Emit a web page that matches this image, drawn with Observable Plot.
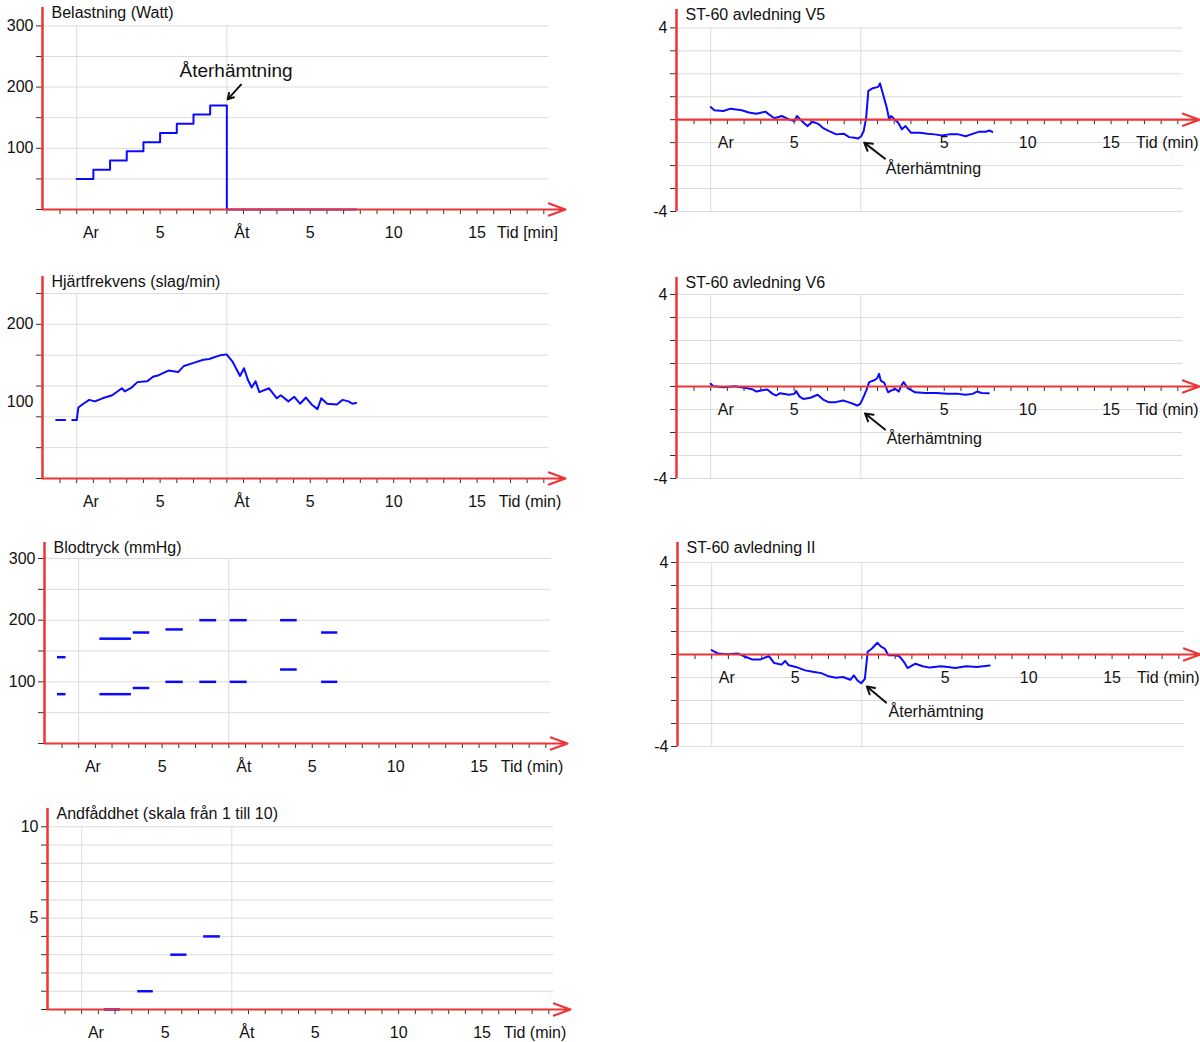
<!DOCTYPE html>
<html><head><meta charset="utf-8">
<script src="https://cdn.jsdelivr.net/npm/d3@7"></script>
<script src="https://cdn.jsdelivr.net/npm/@observablehq/plot@0.6"></script>
<style>
body{margin:0;background:#fff;font-family:"Liberation Sans",Arial,sans-serif;}
#wrap{position:relative;width:1200px;height:1042px;}
#wrap svg{position:absolute;overflow:visible;}
</style></head>
<body><div id="wrap"></div>
<script>
// ---- data (x = minutes from start of exercise "Ar"; "Åt" = 9) ----
const loadSteps = [[0,50],[1,65],[2,80],[3,95],[4,110],[5,125],[6,140],[7,155],[8,170],[9,170],[9,0],[16.75,0]];
const hrRest = [[-1.23,76],[0,76]];
const hrSeries = [[0,76],[0.1,92],[0.4,97],[0.75,102],[1.09,100],[1.55,104],[2.13,108],[2.71,117],[2.88,113],[3.29,118],[3.64,125],[4.22,126],[4.57,132],[4.92,134],[5.5,140],[6.08,138],[6.43,146],[7.01,150],[7.59,154],[7.94,155],[8.63,160],[8.98,161],[9.33,152],[9.79,133],[10.03,143],[10.26,128],[10.49,118],[10.72,126],[10.95,112],[11.53,117],[12.0,104],[12.23,108],[12.69,100],[13.04,106],[13.39,97],[13.74,105],[14.08,96],[14.43,90],[14.66,104],[15.01,97],[15.59,96],[15.94,102],[16.29,100],[16.52,97],[16.75,98]];
const bpStart = [-1.27,1.27,3.27,5.23,7.26,9.08,12.1,14.56];
const bpEnd   = [-0.76,3.16,4.26,6.27,8.27,10.1,13.1,15.53];
const bpSys   = [140,170,180,185,200,200,200,180];
const bpDia   = [80,80,90,100,100,100,120,100];
const dysStart = [1.35,3.36,5.34,7.31];
const dysEnd   = [2.32,4.29,6.31,8.31];
const dysVal   = [0,1,3,4];
const stV5 = [[0,0.55],[0.22,0.41],[0.76,0.38],[1.2,0.48],[1.86,0.41],[2.29,0.31],[2.73,0.26],[3.28,0.35],[3.49,0.23],[3.82,0.06],[4.26,0.16],[4.69,0.01],[5.02,-0.06],[5.17,0.16],[5.46,-0.06],[5.79,-0.28],[6.11,-0.09],[6.44,-0.18],[6.77,-0.38],[7.1,-0.5],[7.53,-0.64],[7.97,-0.61],[8.3,-0.76],[8.62,-0.79],[8.84,-0.82],[9.02,-0.72],[9.17,-0.5],[9.32,0.09],[9.45,1.26],[9.72,1.37],[10.04,1.43],[10.15,1.58],[10.33,1.11],[10.55,0.53],[10.7,0.01],[10.81,0.16],[11.03,0.01],[11.24,-0.13],[11.46,-0.42],[11.68,-0.28],[12.01,-0.57],[12.55,-0.57],[12.99,-0.61],[13.43,-0.64],[13.86,-0.69],[14.3,-0.64],[14.85,-0.64],[15.28,-0.72],[15.61,-0.64],[16.05,-0.53],[16.48,-0.53],[16.7,-0.47],[16.88,-0.53]];
const stV6 = [[0,0.12],[0.15,0.01],[0.8,-0.03],[1.45,0.01],[2.1,-0.06],[2.53,-0.13],[2.74,-0.22],[3.17,-0.15],[3.39,-0.13],[3.71,-0.32],[3.93,-0.39],[4.15,-0.29],[4.69,-0.36],[5.01,-0.32],[5.12,-0.2],[5.33,-0.44],[5.55,-0.54],[5.98,-0.49],[6.41,-0.36],[6.74,-0.57],[7.06,-0.68],[7.49,-0.68],[7.93,-0.61],[8.25,-0.68],[8.57,-0.76],[8.79,-0.83],[8.96,-0.76],[9.11,-0.54],[9.33,-0.17],[9.5,0.19],[9.76,0.26],[9.98,0.36],[10.09,0.55],[10.19,0.26],[10.41,0.16],[10.63,-0.25],[10.84,-0.17],[11.06,-0.1],[11.27,-0.22],[11.43,0.04],[11.56,0.19],[11.81,-0.07],[12.25,-0.25],[12.89,-0.28],[13.54,-0.28],[14.19,-0.31],[14.84,-0.32],[15.27,-0.36],[15.7,-0.32],[15.96,-0.22],[16.24,-0.28],[16.67,-0.29]];
const stII = [[0,0.19],[0.17,0.12],[0.39,0.04],[0.93,0.01],[1.58,0.04],[2.02,-0.1],[2.45,-0.22],[2.89,-0.22],[3.32,-0.1],[3.43,-0.07],[3.75,-0.37],[4.19,-0.44],[4.4,-0.28],[4.62,-0.47],[5.05,-0.54],[5.6,-0.69],[6.14,-0.76],[6.57,-0.81],[7.01,-0.95],[7.44,-1.01],[7.87,-0.98],[8.31,-1.1],[8.52,-0.91],[8.74,-1.13],[8.96,-1.25],[9.18,-1.06],[9.35,0.12],[9.61,0.26],[9.93,0.51],[10.15,0.34],[10.37,0.26],[10.59,-0.03],[10.91,-0.03],[11.24,-0.07],[11.52,-0.32],[11.74,-0.59],[12.21,-0.4],[12.65,-0.51],[13.08,-0.57],[13.73,-0.51],[14.16,-0.54],[14.6,-0.59],[15.25,-0.51],[15.9,-0.54],[16.66,-0.48]];
const xLabelsLeft = [[0.85,"Ar"],[5,"5"],[9.9,"Åt"],[14,"5"],[19,"10"],[24,"15"]];
const xLabelsRight = [[0.9,"Ar"],[5,"5"],[14,"5"],[19,"10"],[24,"15"]];
const titles = ["Belastning (Watt)","Hjärtfrekvens (slag/min)","Blodtryck (mmHg)","Andfåddhet (skala från 1 till 10)","ST-60 avledning V5","ST-60 avledning V6","ST-60 avledning II"];
const annot = "Återhämtning";

// ---- helpers ----
const RED = "#ee3434", BLUE = "#0a0aff", GRID = "#dcdcdc";
const XMIN = -2.05, XMAX = 29.3, GRIDEND = 28.3;
const FONT = "Liberation Sans, Arial, sans-serif";
const wrap = document.getElementById("wrap");
const range = (a,b,s)=>{const r=[];for(let v=a;v<=b+1e-9;v+=s)r.push(+v.toFixed(6));return r;};

function panel(o){
  const base = o.base ?? o.ymin;
  const pxY = o.plotH/(o.ymax-o.ymin);
  const pxX = 523/(XMAX-XMIN);
  const gridVals = range(o.ymin<0?o.ymin:o.gstep, o.gtop, o.gstep).filter(v=>v!==base);
  const tickVals = range(o.ymin, o.gtop, o.gstep);
  const marks = [
    Plot.ruleY(gridVals,{x1:XMIN,x2:GRIDEND,stroke:GRID,strokeWidth:1}),
    Plot.ruleX([0,9],{y1:o.ymin,y2:o.gtop,stroke:GRID,strokeWidth:1}),
    Plot.ruleY(tickVals,{x1:XMIN-6/pxX,x2:XMIN,stroke:"#333",strokeWidth:1}),
    Plot.ruleX(range(-1,28,1),{y1:base,y2:base-5/pxY,stroke:"#333",strokeWidth:1}),
    ...o.data,
    Plot.ruleX([XMIN],{y1:o.ymin,y2:o.ymax,stroke:RED,strokeWidth:2.5}),
    Plot.arrow([[XMIN,base,XMAX,base]],{x1:d=>d[0],y1:d=>d[1],x2:d=>d[2],y2:d=>d[3],stroke:RED,strokeWidth:2.2,headLength:12,headAngle:40}),
    Plot.text(o.yLabels,{x:XMIN,y:d=>d,text:d=>String(d),textAnchor:"end",dx:-9,fontSize:16,fill:"#111"}),
    Plot.text(o.xLabels,{x:d=>d[0],y:base,text:d=>d[1],dy:23,fontSize:16,fill:"#111"}),
    Plot.text([o.tid],{x:o.tidX,y:base,text:d=>d,textAnchor:"start",dy:23,fontSize:16,fill:"#111"}),
    Plot.text([o.title],{x:XMIN,y:o.ymax,text:d=>d,textAnchor:"start",dx:9,dy:5,fontSize:16,fill:"#111"})
  ];
  if(o.annot) marks.push(
    Plot.arrow([o.annot.arrow],{x1:d=>d[0],y1:d=>d[1],x2:d=>d[2],y2:d=>d[3],stroke:"#111",strokeWidth:2,headLength:8}),
    Plot.text([annot],{x:o.annot.text[0],y:o.annot.text[1],text:d=>d,textAnchor:o.annot.anchor,fontSize:o.annot.size,fill:"#111"})
  );
  const svg = Plot.plot({
    width:o.axisX+523+35, height:o.h, marginLeft:o.axisX, marginRight:35,
    marginTop:o.mt, marginBottom:o.h-o.mt-o.plotH,
    x:{type:"linear",domain:[XMIN,XMAX],axis:null}, y:{type:"linear",domain:[o.ymin,o.ymax],axis:null},
    style:{fontFamily:FONT,background:"transparent",overflow:"visible"},
    marks
  });
  svg.style.left=o.left+"px"; svg.style.top=o.top+"px";
  wrap.appendChild(svg);
}
const line = (d)=>Plot.line(d,{x:d=>d[0],y:d=>d[1],stroke:BLUE,strokeWidth:2});

// P1 load
panel({left:0,top:0,axisX:42,h:250,mt:7,plotH:202,ymin:0,ymax:330,gstep:50,gtop:300,yLabels:[100,200,300],
  xLabels:xLabelsLeft,tid:"Tid [min]",tidX:25.2,title:titles[0],
  data:[Plot.line(loadSteps,{x:d=>d[0],y:d=>d[1],curve:"step-after",stroke:BLUE,strokeWidth:2})],
  annot:{arrow:[9.85,204,9.05,180],text:[9.55,227],anchor:"middle",size:19}});
// P2 HR
panel({left:0,top:260,axisX:42,h:250,mt:16,plotH:202,ymin:0,ymax:262,gstep:40,gtop:240,yLabels:[100,200],
  xLabels:xLabelsLeft,tid:"Tid (min)",tidX:25.3,title:titles[1],
  data:[Plot.line(hrRest,{x:d=>d[0],y:d=>d[1],stroke:BLUE,strokeWidth:2,strokeDasharray:"9,7"}),
        line(hrSeries)]});
// P3 BP
const bpRules = [...bpStart.map((s,i)=>({x1:s,x2:bpEnd[i],y:bpSys[i]})),...bpStart.map((s,i)=>({x1:s,x2:bpEnd[i],y:bpDia[i]}))];
panel({left:0,top:525,axisX:44,h:250,mt:17,plotH:201,ymin:0,ymax:326,gstep:50,gtop:300,yLabels:[100,200,300],
  xLabels:xLabelsLeft,tid:"Tid (min)",tidX:25.3,title:titles[2],
  data:[Plot.ruleY(bpRules,{x1:"x1",x2:"x2",y:"y",stroke:BLUE,strokeWidth:2.5})]});
// P4 dyspnoea
const dysRules = dysStart.map((s,i)=>({x1:s,x2:dysEnd[i],y:dysVal[i]}));
panel({left:0,top:795,axisX:47,h:247,mt:13,plotH:201,ymin:0,ymax:11,gstep:1,gtop:10,yLabels:[5,10],
  xLabels:xLabelsLeft,tid:"Tid (min)",tidX:25.3,title:titles[3],
  data:[Plot.ruleY(dysRules,{x1:"x1",x2:"x2",y:"y",stroke:BLUE,strokeWidth:2.5})]});
// Right ST panels
panel({left:634,top:0,axisX:42,h:250,mt:9,plotH:202,ymin:-4,ymax:4.8,base:0,gstep:1,gtop:4,yLabels:[4,-4],
  xLabels:xLabelsRight,tid:"Tid (min)",tidX:25.5,title:titles[4],data:[line(stV5)],
  annot:{arrow:[10.45,-1.7,9.2,-1.0],text:[10.5,-2.15],anchor:"start",size:16}});
panel({left:634,top:265,axisX:42,h:250,mt:12,plotH:201,ymin:-4,ymax:4.74,base:0,gstep:1,gtop:4,yLabels:[4,-4],
  xLabels:xLabelsRight,tid:"Tid (min)",tidX:25.5,title:titles[5],data:[line(stV6)],
  annot:{arrow:[10.45,-1.87,9.25,-1.17],text:[10.55,-2.26],anchor:"start",size:16}});
panel({left:635,top:535,axisX:42,h:250,mt:7,plotH:204,ymin:-4,ymax:4.87,base:0,gstep:1,gtop:4,yLabels:[4,-4],
  xLabels:xLabelsRight,tid:"Tid (min)",tidX:25.5,title:titles[6],data:[line(stII)],
  annot:{arrow:[10.45,-2.09,9.3,-1.39],text:[10.6,-2.48],anchor:"start",size:16}});
</script></body></html>
